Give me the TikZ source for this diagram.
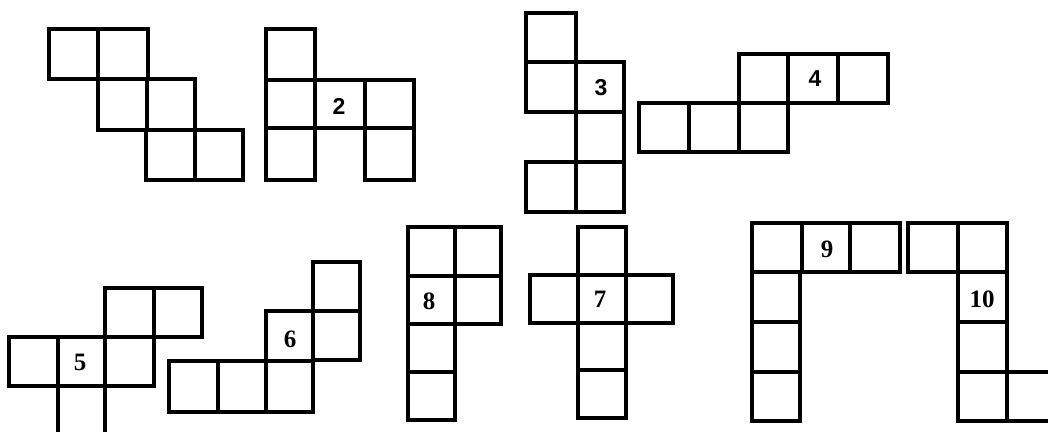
\documentclass[tikz,border=0pt]{standalone}
\usepackage{fontspec}
\setmainfont{Liberation Serif}
\newfontfamily\labsans{Liberation Sans}
\begin{document}
\begin{tikzpicture}[x=1pt,y=-1pt,
  cell/.style={draw=black,line width=3.6pt,line join=miter},
  slab/.style={font=\labsans\bfseries\fontsize{23}{23}\selectfont,inner sep=0pt},
  rlab/.style={font=\bfseries\fontsize{25}{25}\selectfont,inner sep=0pt}]
\useasboundingbox (0,0) rectangle (1048,431);
\fill[white] (0,0) rectangle (1048,431);
\clip (0,0) rectangle (1048,431);
% Figure 1
\draw[cell] (49,29) rectangle (98,79);
\draw[cell] (98,29) rectangle (148,79);
\draw[cell] (98,79) rectangle (147,130);
\draw[cell] (147,79) rectangle (195,130);
\draw[cell] (146,130) rectangle (195,180);
\draw[cell] (195,130) rectangle (243,180);
% Figure 2
\draw[cell] (266,29) rectangle (315,80);
\draw[cell] (266,80) rectangle (315,128);
\draw[cell] (315,80) rectangle (365,128);
\draw[cell] (365,80) rectangle (414,128);
\draw[cell] (266,128) rectangle (315,180);
\draw[cell] (365,128) rectangle (414,180);
\node[slab] (l2) at (339,106) {2};
% Figure 3
\draw[cell] (526,13) rectangle (576,62);
\draw[cell] (526,62) rectangle (576,112);
\draw[cell] (576,62) rectangle (624,112);
\draw[cell] (576,112) rectangle (624,162);
\draw[cell] (526,162) rectangle (576,212);
\draw[cell] (576,162) rectangle (624,212);
\node[slab] (l3) at (601,88) {3};
% Figure 4
\draw[cell] (639,103) rectangle (689,152);
\draw[cell] (689,103) rectangle (739,152);
\draw[cell] (739,103) rectangle (788,152);
\draw[cell] (739,54) rectangle (788,103);
\draw[cell] (788,54) rectangle (838,103);
\draw[cell] (838,54) rectangle (888,103);
\node[slab] (l4) at (815,79) {4};
% Figure 5
\draw[cell] (105,288) rectangle (154,337);
\draw[cell] (154,288) rectangle (202,337);
\draw[cell] (9,337) rectangle (58,386);
\draw[cell] (58,337) rectangle (105,386);
\draw[cell] (105,337) rectangle (154,386);
\draw[cell] (58,386) rectangle (105,435);
\node[rlab] (l5) at (80,362) {5};
% Figure 6
\draw[cell] (313,262) rectangle (360,311);
\draw[cell] (266,311) rectangle (313,361);
\draw[cell] (313,311) rectangle (360,360);
\draw[cell] (169,361) rectangle (218,412);
\draw[cell] (218,361) rectangle (266,412);
\draw[cell] (266,361) rectangle (313,412);
\node[rlab] (l6) at (290,339) {6};
% Figure 8
\draw[cell] (408,227) rectangle (455,276);
\draw[cell] (455,227) rectangle (501,276);
\draw[cell] (408,276) rectangle (455,324);
\draw[cell] (455,276) rectangle (501,324);
\draw[cell] (408,324) rectangle (455,372);
\draw[cell] (408,372) rectangle (455,420);
\node[rlab] (l8) at (429,301) {8};
% Figure 7
\draw[cell] (578,227) rectangle (626,275);
\draw[cell] (530,275) rectangle (578,323);
\draw[cell] (578,275) rectangle (626,323);
\draw[cell] (626,275) rectangle (673,323);
\draw[cell] (578,323) rectangle (626,370);
\draw[cell] (578,370) rectangle (626,418);
\node[rlab] (l7) at (600,299) {7};
% Figure 9
\draw[cell] (752,223) rectangle (802,272);
\draw[cell] (802,223) rectangle (850,272);
\draw[cell] (850,223) rectangle (900,272);
\draw[cell] (752,272) rectangle (800,322);
\draw[cell] (752,322) rectangle (800,372);
\draw[cell] (752,372) rectangle (800,421);
\node[rlab] (l9) at (827,249) {9};
% Figure 10
\draw[cell] (908,223) rectangle (958,272);
\draw[cell] (958,223) rectangle (1007,272);
\draw[cell] (958,272) rectangle (1007,322);
\draw[cell] (958,322) rectangle (1007,372);
\draw[cell] (958,372) rectangle (1007,421);
\draw[cell] (1007,372) rectangle (1056,421);
\node[rlab] (l10) at (982,299) {10};
\end{tikzpicture}
\end{document}
